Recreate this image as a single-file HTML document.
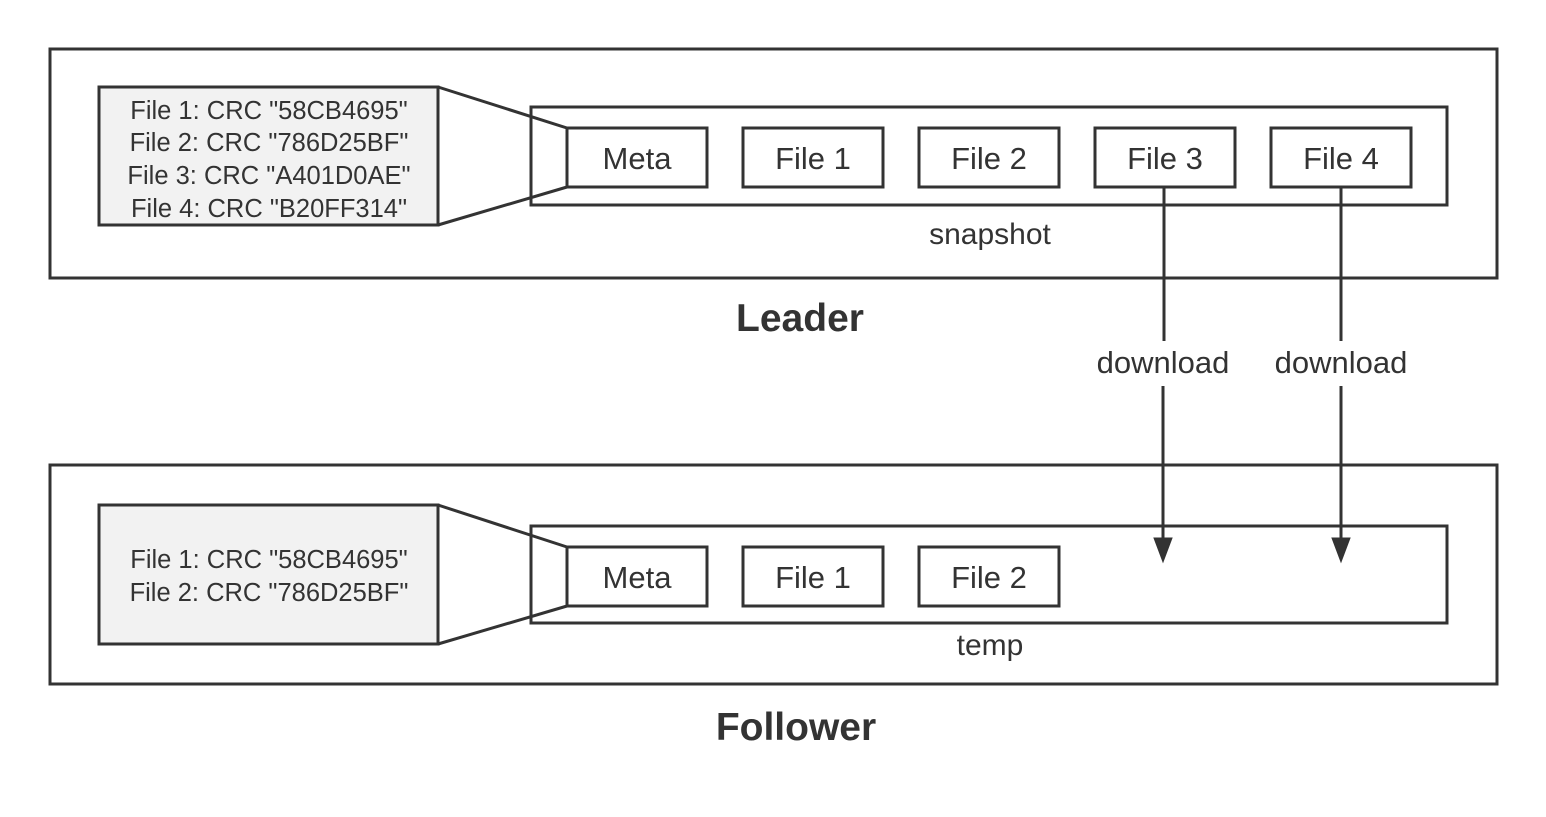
<!DOCTYPE html>
<html><head><style>html,body{margin:0;padding:0;background:#fff}svg{display:block}</style></head><body>
<svg width="1546" height="817" viewBox="0 0 1546 817" xmlns="http://www.w3.org/2000/svg" font-family="Liberation Sans, Arial, sans-serif" fill="none" stroke="#333" stroke-width="3">
<rect x="50" y="49" width="1447" height="229"/>
<rect x="99" y="87" width="339" height="138" fill="#f2f2f2"/>
<rect x="531" y="107" width="916" height="98"/>
<line x1="438" y1="87" x2="567" y2="128"/><line x1="438" y1="225" x2="567" y2="187"/>
<rect x="567" y="128" width="140" height="59" fill="#fff"/>
<rect x="743" y="128" width="140" height="59"/>
<rect x="919" y="128" width="140" height="59"/>
<rect x="1095" y="128" width="140" height="59"/>
<rect x="1271" y="128" width="140" height="59"/>
<rect x="50" y="465" width="1447" height="219"/>
<rect x="99" y="505" width="339" height="139" fill="#f2f2f2"/>
<rect x="531" y="526" width="916" height="97"/>
<line x1="438" y1="505" x2="567" y2="547"/><line x1="438" y1="644" x2="567" y2="606"/>
<rect x="567" y="547" width="140" height="59" fill="#fff"/>
<rect x="743" y="547" width="140" height="59"/>
<rect x="919" y="547" width="140" height="59"/>
<path d="M1164 187V341M1163 386V540M1341 187V341M1341 386V540"/>
<path d="M1154 538L1172 538L1163 562Z M1332 538L1350 538L1341 562Z" fill="#333" stroke-width="1"/>
<g fill="#333" stroke="none" text-anchor="middle">
<g font-size="25.5"><text x="269" y="119">File 1: CRC "58CB4695"</text><text x="269" y="151">File 2: CRC "786D25BF"</text><text x="269" y="184">File 3: CRC "A401D0AE"</text><text x="269" y="217">File 4: CRC "B20FF314"</text>
<text x="269" y="568">File 1: CRC "58CB4695"</text><text x="269" y="601">File 2: CRC "786D25BF"</text></g>
<g font-size="31"><text x="637" y="169">Meta</text><text x="813" y="169">File 1</text><text x="989" y="169">File 2</text><text x="1165" y="169">File 3</text><text x="1341" y="169">File 4</text>
<text x="637" y="588">Meta</text><text x="813" y="588">File 1</text><text x="989" y="588">File 2</text>
<text x="1163" y="373">download</text><text x="1341" y="373">download</text></g>
<g font-size="30"><text x="990" y="244">snapshot</text><text x="990" y="655">temp</text></g>
<g font-size="39" font-weight="bold"><text x="800" y="331">Leader</text><text x="796" y="740">Follower</text></g>
</g>
</svg>
</body></html>
